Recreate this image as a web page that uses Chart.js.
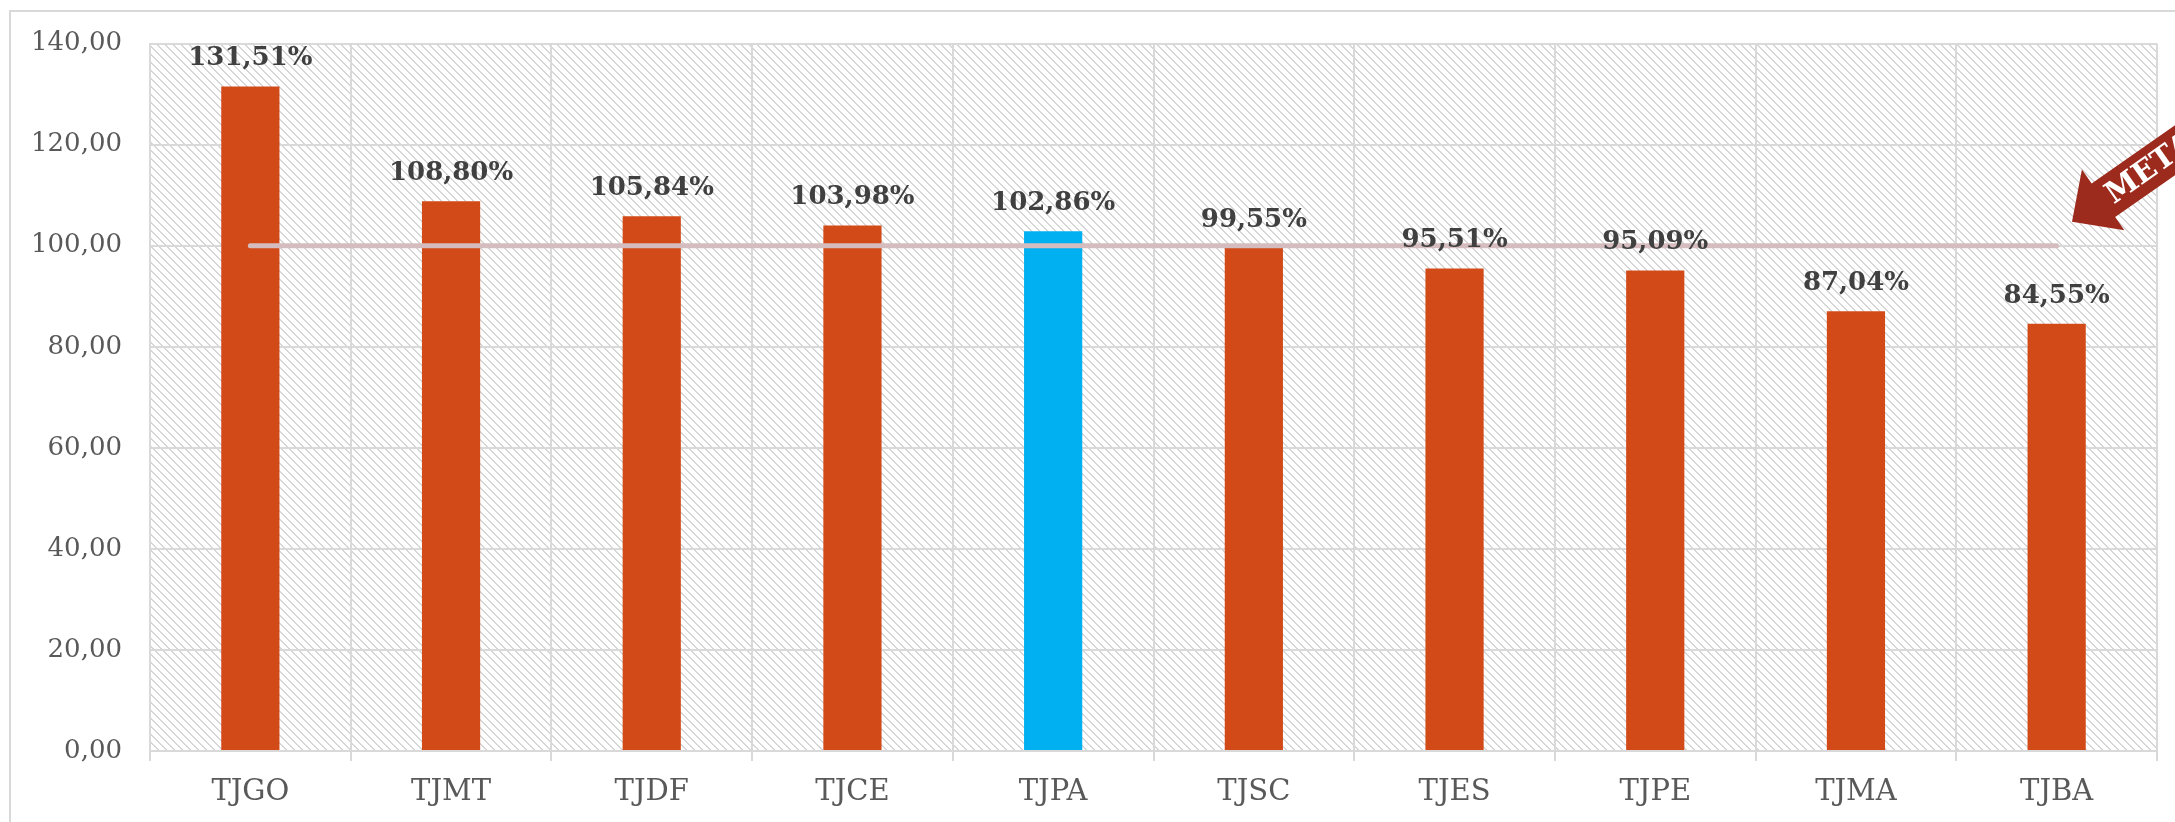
<!DOCTYPE html>
<html>
<head>
<meta charset="utf-8">
<script src="https://cdn.jsdelivr.net/npm/chart.js@4.4.1/dist/chart.umd.min.js"></script>
<style>
  html, body { margin: 0; padding: 0; background: #fff; }
  #wrap { width: 2175px; height: 822px; position: relative; }
</style>
</head>
<body>
<div id="wrap"><canvas id="myChart" width="2175" height="822"></canvas></div>
<script>
const tribunais = ['TJGO', 'TJMT', 'TJDF', 'TJCE', 'TJPA', 'TJSC', 'TJES', 'TJPE', 'TJMA', 'TJBA'];
const indices = [131.51, 108.80, 105.84, 103.98, 102.86, 99.55, 95.51, 95.09, 87.04, 84.55];
const meta = [100, 100, 100, 100, 100, 100, 100, 100, 100, 100];
const destaque = 'TJPA';

const laranja = '#D24A18';
const azul = '#00B0F0';
const fonte = '"DejaVu Serif", serif';

const cores = tribunais.map((t) => (t === destaque ? azul : laranja));

// fundo hachurado da area do grafico
function hachura() {
	const s = 8;
	const c = document.createElement('canvas');
	c.width = s; c.height = s;
	const g = c.getContext('2d');
	const img = g.createImageData(s, s);
	for (let y = 0; y < s; y++) {
		for (let x = 0; x < s; x++) {
			const k = (y * s + x) * 4;
			const on = ((x - y) % s + s) % s < 2;
			const v = on ? 214 : 255;
			img.data[k] = v; img.data[k + 1] = v; img.data[k + 2] = v; img.data[k + 3] = 255;
		}
	}
	g.putImageData(img, 0, 0);
	return c;
}

const fundo = {
	id: 'fundo',
	beforeDraw(chart) {
		const { ctx, chartArea: a } = chart;
		ctx.save();
		ctx.fillStyle = '#fff';
		ctx.fillRect(0, 0, chart.width, chart.height);
		ctx.strokeStyle = '#d9d9d9';
		ctx.lineWidth = 2;
		ctx.strokeRect(10, 11, chart.width + 20, chart.height + 20);
		ctx.fillStyle = ctx.createPattern(hachura(), 'repeat');
		ctx.fillRect(a.left, a.top, a.right - a.left, a.bottom - a.top);
		ctx.restore();
	}
};

const rotulos = {
	id: 'rotulos',
	afterDatasetsDraw(chart) {
		const { ctx } = chart;
		const meta0 = chart.getDatasetMeta(0);
		ctx.save();
		ctx.font = 'bold 26px ' + fonte;
		ctx.fillStyle = '#404040';
		ctx.textAlign = 'center';
		ctx.textBaseline = 'bottom';
		meta0.data.forEach((bar, i) => {
			const txt = indices[i].toFixed(2).replace('.', ',') + '%';
			ctx.fillText(txt, bar.x, bar.y - 15);
		});
		ctx.restore();
	}
};

// seta "META" no canto superior direito
const seta = {
	id: 'seta',
	afterDraw(chart) {
		const { ctx, chartArea: a } = chart;
		const y100 = chart.scales.y.getPixelForValue(100);
		const tx = a.right - 85, ty = y100 - 24;
		const ang = -35 * Math.PI / 180;
		ctx.save();
		ctx.translate(tx, ty);
		ctx.rotate(ang);
		ctx.fillStyle = '#9C2B1D';
		ctx.beginPath();
		ctx.moveTo(0, 0);
		ctx.lineTo(38, -37);
		ctx.lineTo(38, -20);
		ctx.lineTo(400, -20);
		ctx.lineTo(400, 21);
		ctx.lineTo(38, 21);
		ctx.lineTo(38, 37);
		ctx.closePath();
		ctx.fill();
		ctx.fillStyle = '#fff';
		ctx.font = 'bold 30px ' + fonte;
		ctx.textAlign = 'left';
		ctx.textBaseline = 'middle';
		ctx.fillText('META', 44, 2);
		ctx.restore();
	}
};

const ctx = document.getElementById('myChart').getContext('2d');

const myChart = new Chart(ctx, {
	data: {
		labels: tribunais,
		datasets: [
			{
				type: 'bar',
				label: 'Índice',
				data: indices,
				backgroundColor: cores,
				barPercentage: 0.29,
				categoryPercentage: 1,
				order: 1
			},
			{
				type: 'line',
				label: 'Meta',
				data: meta,
				borderColor: '#D5BDBF',
				borderWidth: 5,
				borderCapStyle: 'round',
				pointRadius: 0,
				fill: false,
				order: 0
			}
		]
	},
	options: {
		responsive: false,
		animation: false,
		layout: { padding: { top: 42, right: 18, left: 0, bottom: 0 } },
		plugins: {
			legend: { display: false },
			tooltip: { enabled: false }
		},
		scales: {
			x: {
				offset: true,
				grid: { color: '#d9d9d9', lineWidth: 2, offset: true, tickLength: 10 },
				border: { color: '#d9d9d9', width: 2 },
				ticks: { color: '#595959', font: { family: fonte, size: 29 }, padding: 14 },
				afterFit(s) { s.height = 71; }
			},
			y: {
				min: 0,
				max: 140,
				grid: { color: '#d9d9d9', lineWidth: 2, drawTicks: false },
				border: { color: '#d9d9d9', width: 2 },
				ticks: {
					stepSize: 20,
					color: '#595959',
					font: { family: fonte, size: 26 },
					padding: 28,
					callback: (v) => v.toFixed(2).replace('.', ',')
				},
				afterFit(s) { s.width = 150; }
			}
		}
	},
	plugins: [fundo, rotulos, seta]
});
</script>
</body>
</html>
